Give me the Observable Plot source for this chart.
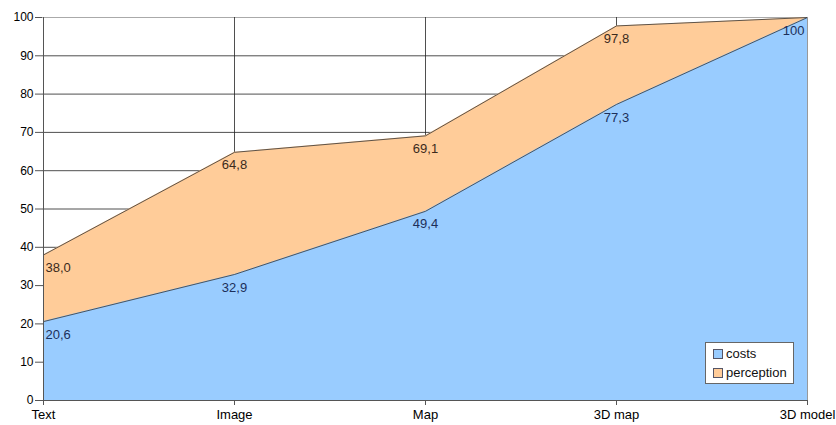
<!DOCTYPE html>
<html>
<head>
<meta charset="utf-8">
<script src="https://cdn.jsdelivr.net/npm/d3@7"></script>
<script src="https://cdn.jsdelivr.net/npm/@observablehq/plot@0.6"></script>
<style>
  html, body { margin: 0; padding: 0; background: #fff; }
  #wrap { position: relative; width: 836px; height: 425px; font-family: "Liberation Sans", Arial, sans-serif; }
  #legend { position: absolute; left: 705px; top: 342px; width: 89px; height: 42px; background: #fff; border: 1px solid #666;
            font-size: 13px; line-height: 19px; padding: 1px 0 0 7px; box-sizing: border-box; color: #111; }
  #legend .sw { display: inline-block; width: 8px; height: 8px; border: 1px solid #556; margin-right: 3px; vertical-align: -1px; }
</style>
</head>
<body>
<div id="wrap"></div>
<script>
const categories = ["Text", "Image", "Map", "3D map", "3D model"];
const costs = [20.6, 32.9, 49.4, 77.3, 100];
const perception = [38.0, 64.8, 69.1, 97.8, 100];
const yTicks = [0, 10, 20, 30, 40, 50, 60, 70, 80, 90, 100];

const seriesNames = ["costs", "perception"];
const seriesColors = ["#99ccff", "#ffcc99"];

const data = categories.map((c, i) => ({cat: c, costs: costs[i], perception: perception[i], i}));
const fmt = v => v.toFixed(v === 100 ? 0 : 1).replace(".", ",");
const anchor = d => d.i === 0 ? "start" : d.i === categories.length - 1 ? "end" : "middle";

function labels(key, color, skip) {
  const rows = data.filter(d => !(skip && skip(d)));
  return ["start", "middle", "end"].map(a =>
    Plot.text(rows.filter(d => anchor(d) === a), {
      x: "cat", y: key, text: d => fmt(d[key]), textAnchor: a,
      dy: 13, dx: a === "start" ? 2 : a === "end" ? -3 : 0,
      fill: color, fontSize: 13
    })
  );
}

const chart = Plot.plot({
  width: 836,
  height: 425,
  marginLeft: 42,
  marginRight: 28,
  marginTop: 17,
  marginBottom: 25,
  style: {fontFamily: "'Liberation Sans', Arial, sans-serif", fontSize: "12px", background: "#fff", overflow: "visible"},
  x: {type: "point", domain: categories, padding: 0, label: null},
  y: {domain: [0, 100], label: null},
  marks: [
    Plot.ruleY(yTicks.slice(1, -1), {stroke: "#222", strokeWidth: 0.8}),
    Plot.ruleY([100], {stroke: "#aaa", strokeWidth: 1}),
    Plot.ruleX(categories.slice(1, -1), {stroke: "#222", strokeWidth: 0.8}),
    Plot.areaY(data, {x: "cat", y: "perception", fill: seriesColors[1]}),
    Plot.areaY(data, {x: "cat", y: "costs", fill: seriesColors[0]}),
    Plot.lineY(data, {x: "cat", y: "perception", stroke: "#333", strokeWidth: 0.8}),
    Plot.lineY(data, {x: "cat", y: "costs", stroke: "#333", strokeWidth: 0.8}),
    Plot.ruleX([categories[categories.length - 1]], {stroke: "#999", strokeWidth: 1}),
    ...labels("perception", "#3b2a1c", d => d.perception === d.costs),
    ...labels("costs", "#1c2f5a"),
    Plot.ruleX([categories[0]], {stroke: "#555", strokeWidth: 1}),
    Plot.ruleY([0], {stroke: "#555", strokeWidth: 1}),
    Plot.axisY({ticks: yTicks, tickSize: 7, tickPadding: 2, stroke: "#555", fill: "#000", fontSize: 12}),
    Plot.axisX({tickSize: 5, tickPadding: 4, stroke: "#555", fill: "#000", fontSize: 13})
  ]
});

const wrap = document.getElementById("wrap");
wrap.appendChild(chart);
const legend = document.createElement("div");
legend.id = "legend";
legend.innerHTML = seriesNames.map((n, i) =>
  `<div><span class="sw" style="background:${seriesColors[i]}"></span>${n}</div>`).join("");
wrap.appendChild(legend);
</script>
</body>
</html>
